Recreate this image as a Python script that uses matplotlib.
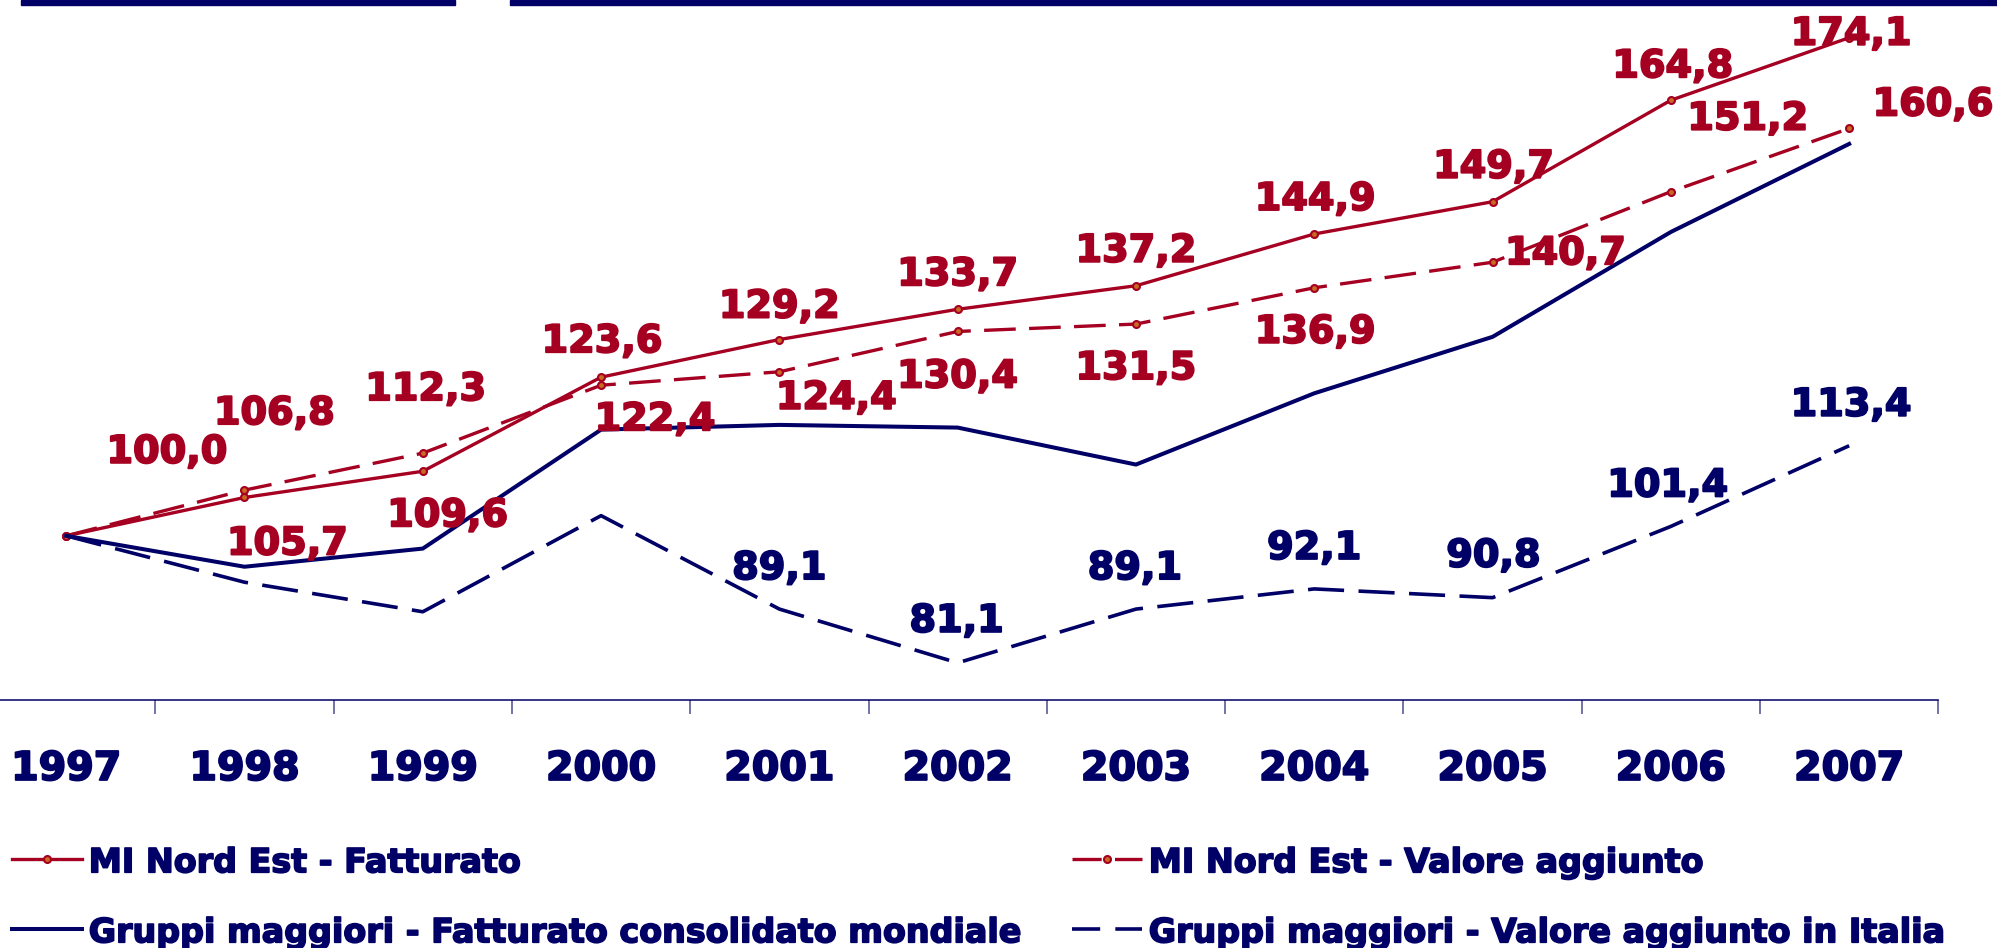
import matplotlib.pyplot as plt
import matplotlib.patheffects as pe
from matplotlib.lines import Line2D
from matplotlib.patches import Rectangle

# data (index 1997 = 100)
years = ["1997", "1998", "1999", "2000", "2001", "2002", "2003", "2004", "2005", "2006", "2007"]
mi_fatturato = [100.0, 105.7, 109.6, 123.6, 129.2, 133.7, 137.2, 144.9, 149.7, 164.8, 174.1]
mi_valore = [100.0, 106.8, 112.3, 122.4, 124.4, 130.4, 131.5, 136.9, 140.7, 151.2, 160.6]
gm_fatturato = [100.0, 95.4, 98.1, 115.8, 116.5, 116.1, 110.6, 121.2, 129.6, 145.2, 158.3]
gm_valore = [100.0, 93.1, 88.7, 103.0, 89.1, 81.1, 89.1, 92.1, 90.8, 101.4, 113.4]

legend_labels = ["MI Nord Est - Fatturato", "MI Nord Est - Valore aggiunto",
                 "Gruppi maggiori - Fatturato consolidato mondiale",
                 "Gruppi maggiori - Valore aggiunto in Italia"]

# label placement (pixel offsets of the digit centre from the point, image coords)
off_mi_fatt = [(101, -88), (43, 42), (25, 40), (1, -40), (0, -37), (0, -39), (0, -39),
               (1, -39), (1, -39), (2, -38), (2, -8)]
off_mi_val = [None, (30, -81), (3, -68), (54, 30), (57, 22), (0, 41), (0, 40),
              (1, 40), (73, -13), (77, -77), (84, -28)]
off_gm_val = [None, None, None, None, (0, -45), (-1, -46), (-1, -45),
              (0, -45), (1, -46), (-3, -45), (2, -45)]

RED = "#A50021"
NAVY = "#000066"
W, H = 1997, 948


def heavy(color, w=1.4):
    # thicken DejaVu bold a bit so it looks like the Verdana bold of the original
    return [pe.withStroke(linewidth=w, foreground=color)]


fig = plt.figure(figsize=(W / 100, H / 100), dpi=100)
ax = fig.add_axes([0, 1 - 700.3 / H, 1938.3 / W, 700.3 / H])

x = list(range(len(years)))
mk = dict(marker="o", markersize=5, markerfacecolor="#c86a20", markeredgecolor=RED, markeredgewidth=1.5)

l1, = ax.plot(x, mi_fatturato, color=RED, lw=2.4, clip_on=False, **mk)
l2, = ax.plot(x, mi_valore, color=RED, lw=2.4, dashes=(9.5, 4), clip_on=False, **mk)
l3, = ax.plot(x, gm_fatturato, color=NAVY, lw=2.9, clip_on=False)
l4, = ax.plot(x, gm_valore, color=NAVY, lw=2.6, dashes=(10, 4), clip_on=False)


def fmt(v):
    return f"{v:.1f}".replace(".", ",")


def put_labels(vals, offs, color):
    for i, (v, o) in enumerate(zip(vals, offs)):
        if o is None:
            continue
        ax.annotate(fmt(v), (i, v), xytext=(o[0], -(o[1] + 15)), textcoords="offset pixels",
                    ha="center", va="baseline", fontsize=27.5, fontweight="bold",
                    color=color, annotation_clip=False, path_effects=heavy(color))


put_labels(mi_fatturato, off_mi_fatt, RED)
put_labels(mi_valore, off_mi_val, RED)
put_labels(gm_valore, off_gm_val, NAVY)

ax.set_xlim(-0.5 + 22.95 / 178.3, 10.5)
ax.set_ylim(75.53, 179.71)

for s in ["left", "top", "right"]:
    ax.spines[s].set_visible(False)
ax.spines["bottom"].set_color(NAVY)
ax.spines["bottom"].set_linewidth(1.1)
ax.set_yticks([])

ax.set_xticks(x)
ax.set_xticklabels(years, fontsize=28.5, fontweight="bold", color=NAVY)
for t in ax.get_xticklabels():
    t.set_path_effects(heavy(NAVY))
ax.tick_params(axis="x", which="major", length=0, pad=35)
ax.set_xticks([i + 0.5 for i in x], minor=True)
ax.tick_params(axis="x", which="minor", length=10, width=1.2, color="#5a5a9a", direction="out")

# top decorative bars
fig.patches.append(Rectangle((21 / W, 1 - 5 / H), (455 - 21) / W, 5 / H,
                             transform=fig.transFigure, color=NAVY))
fig.patches.append(Rectangle((510 / W, 1 - 5 / H), 1 - 510 / W, 5 / H,
                             transform=fig.transFigure, color=NAVY))

# legend drawn by hand in two columns
handles = [l1, l2, l3, l4]
legend_dashes = [None, (8.75, 4), None, (7.8, 4.2)]
spots = [(11.7, 859.3), (1071.7, 859.3), (11.7, 929.3), (1071.7, 929.3)]
for h, d, lab, (px, py) in zip(handles, legend_dashes, legend_labels, spots):
    ln = Line2D([px / W, (px + 70) / W], [1 - py / H] * 2, transform=fig.transFigure,
                color=h.get_color(), lw=h.get_linewidth())
    if d is not None:
        ln.set_dashes(d)
    fig.add_artist(ln)
    if h.get_marker() not in (None, "None", ""):
        fig.add_artist(Line2D([(px + 35) / W], [1 - py / H], transform=fig.transFigure,
                              linestyle="none", **mk))
    fig.text((px + 77) / W, 1 - (py + 13) / H, lab, fontsize=24, fontweight="bold",
             color=NAVY, ha="left", va="baseline", path_effects=heavy(NAVY, 1.2))

fig.savefig("out.png", dpi=100)
